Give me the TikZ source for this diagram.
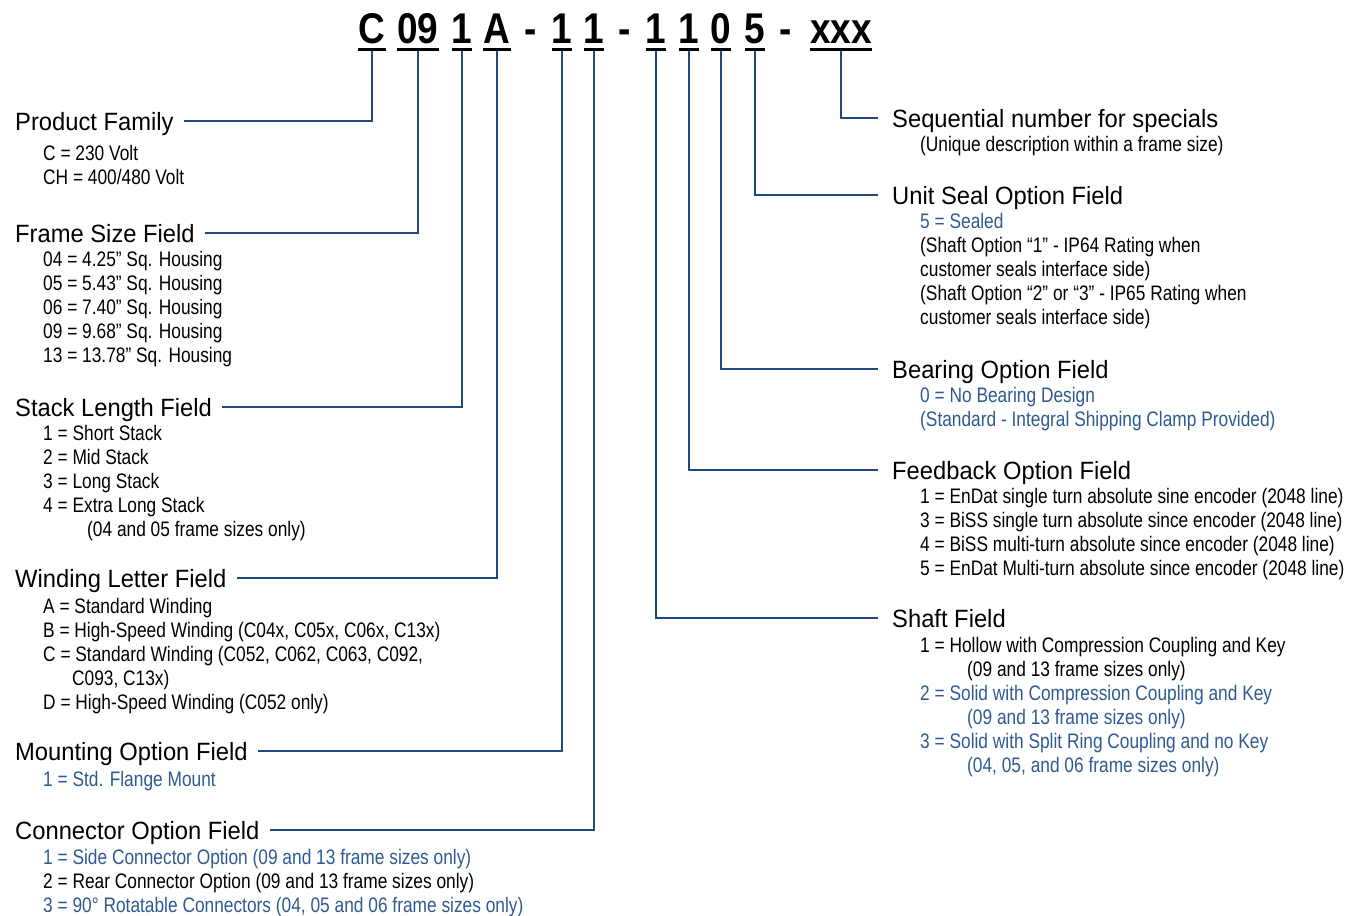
\documentclass[tikz,border=0pt]{standalone}
\usepackage{fontspec}
\usepackage{xcolor}
\usepackage{tikz}
\usetikzlibrary{positioning,calc}
\setmainfont{Liberation Sans}
\newfontfamily\bodyfont{Liberation Sans}[FakeStretch=0.825]
\newfontfamily\headfont{Liberation Sans}[FakeStretch=0.95]
\newfontfamily\codefont{Liberation Sans}[FakeStretch=0.86]
\definecolor{codeblue}{RGB}{47,90,145}
\definecolor{linkblue}{RGB}{31,73,125}

\begin{document}
\begin{tikzpicture}[x=1pt, y=-1pt,
    code/.style={anchor=base, inner sep=0pt, text depth=0pt, font=\codefont\bfseries\fontsize{43}{43}\selectfont},
    head/.style={anchor=base west, inner sep=0pt, text height=18pt, text depth=0pt, font=\headfont\fontsize{25}{30}\selectfont},
    item/.style={anchor=base west, inner sep=0pt, font=\bodyfont\fontsize{21}{24}\selectfont},
    link/.style={draw=linkblue, line width=1.3pt}]
  \useasboundingbox (0,0) rectangle (1361,916);

  % the part number
  \node[code] (pfam)    at (372,43) {C};
  \node[code] (fsize)   at (418,43) {09};
  \node[code] (slen)    at (462,43) {1};
  \node[code] (wletter) at (497,43) {A};
  \node[code] (dasha)   at (531,43) {-};
  \node[code] (mopt)    at (562,43) {1};
  \node[code] (copt)    at (594,43) {1};
  \node[code] (dashb)   at (625,43) {-};
  \node[code] (shaft)   at (656,43) {1};
  \node[code] (fback)   at (689,43) {1};
  \node[code] (bopt)    at (721,43) {0};
  \node[code] (useal)   at (755,43) {5};
  \node[code] (dashc)   at (786,43) {-};
  \node[code] (seq)     at (841,43) {xxx};
  \foreach \n in {pfam,fsize,slen,wletter,mopt,copt,shaft,fback,bopt,useal,seq}
    \draw[line width=3pt] ([yshift=-6.5pt]\n.south west) -- ([yshift=-6.5pt]\n.south east);

  % left column
  \node[head] (hpfam) at (15,130) {Product Family};
  \foreach \t [count=\i from 0] in {{C = 230 Volt},{CH = 400/480 Volt}}
    \node[item] at (43,160+24*\i) {\t};

  \node[head] (hfsize) at (15,242) {Frame Size Field};
  \foreach \t [count=\i from 0] in {{04 = 4.25” Sq. Housing},{05 = 5.43” Sq. Housing},
      {06 = 7.40” Sq. Housing},{09 = 9.68” Sq. Housing},{13 = 13.78” Sq. Housing}}
    \node[item] at (43,266+24*\i) {\t};

  \node[head] (hslen) at (15,416) {Stack Length Field};
  \foreach \t [count=\i from 0] in {{1 = Short Stack},{2 = Mid Stack},{3 = Long Stack},
      {4 = Extra Long Stack},{\hspace*{44pt}(04 and 05 frame sizes only)}}
    \node[item] at (43,440+24*\i) {\t};

  \node[head] (hwletter) at (15,587) {Winding Letter Field};
  \foreach \t [count=\i from 0] in {{A = Standard Winding},
      {B = High-Speed Winding (C04x, C05x, C06x, C13x)},
      {C = Standard Winding (C052, C062, C063, C092,},
      {\hspace*{29pt}C093, C13x)},
      {D = High-Speed Winding (C052 only)}}
    \node[item] at (43,613+24*\i) {\t};

  \node[head] (hmopt) at (15,760) {Mounting Option Field};
  \node[item, text=codeblue] at (43,786) {1 = Std. Flange Mount};

  \node[head] (hcopt) at (15,839) {Connector Option Field};
  \foreach \t [count=\i from 0] in {{\color{codeblue}1 = Side Connector Option (09 and 13 frame sizes only)},
      {2 = Rear Connector Option (09 and 13 frame sizes only)},
      {\color{codeblue}3 = 90° Rotatable Connectors (04, 05 and 06 frame sizes only)}}
    \node[item] at (43,864+24*\i) {\t};

  % right column
  \node[head] (hseq) at (892,127) {Sequential number for specials};
  \node[item] at (920,151) {(Unique description within a frame size)};

  \node[head] (huseal) at (892,204) {Unit Seal Option Field};
  \foreach \t [count=\i from 0] in {{\color{codeblue}5 = Sealed},
      {(Shaft Option “1” - IP64 Rating when},{customer seals interface side)},
      {(Shaft Option “2” or “3” - IP65 Rating when},{customer seals interface side)}}
    \node[item] at (920,228+24*\i) {\t};

  \node[head] (hbopt) at (892,378) {Bearing Option Field};
  \foreach \t [count=\i from 0] in {{0 = No Bearing Design},
      {(Standard - Integral Shipping Clamp Provided)}}
    \node[item, text=codeblue] at (920,402+24*\i) {\t};

  \node[head] (hfback) at (892,479) {Feedback Option Field};
  \foreach \t [count=\i from 0] in {{1 = EnDat single turn absolute sine encoder (2048 line)},
      {3 = BiSS single turn absolute since encoder (2048 line)},
      {4 = BiSS multi-turn absolute since encoder (2048 line)},
      {5 = EnDat Multi-turn absolute since encoder (2048 line)}}
    \node[item] at (920,503+24*\i) {\t};

  \node[head] (hshaft) at (892,627) {Shaft Field};
  \foreach \t [count=\i from 0] in {{1 = Hollow with Compression Coupling and Key},
      {\hspace*{47pt}(09 and 13 frame sizes only)},
      {\color{codeblue}2 = Solid with Compression Coupling and Key},
      {\color{codeblue}\hspace*{47pt}(09 and 13 frame sizes only)},
      {\color{codeblue}3 = Solid with Split Ring Coupling and no Key},
      {\color{codeblue}\hspace*{47pt}(04, 05, and 06 frame sizes only)}}
    \node[item] at (920,652+24*\i) {\t};

  % connectors
  \foreach \h/\n in {hpfam/pfam,hfsize/fsize,hslen/slen,hwletter/wletter,hmopt/mopt,hcopt/copt}
    \draw[link] ([xshift=10pt]\h.east) -| ([yshift=-8pt]\n.south);
  \foreach \h/\n in {hseq/seq,huseal/useal,hbopt/bopt,hfback/fback,hshaft/shaft}
    \draw[link] ([yshift=-8pt]\n.south) |- ([xshift=-14pt]\h.west);
\end{tikzpicture}
\end{document}
